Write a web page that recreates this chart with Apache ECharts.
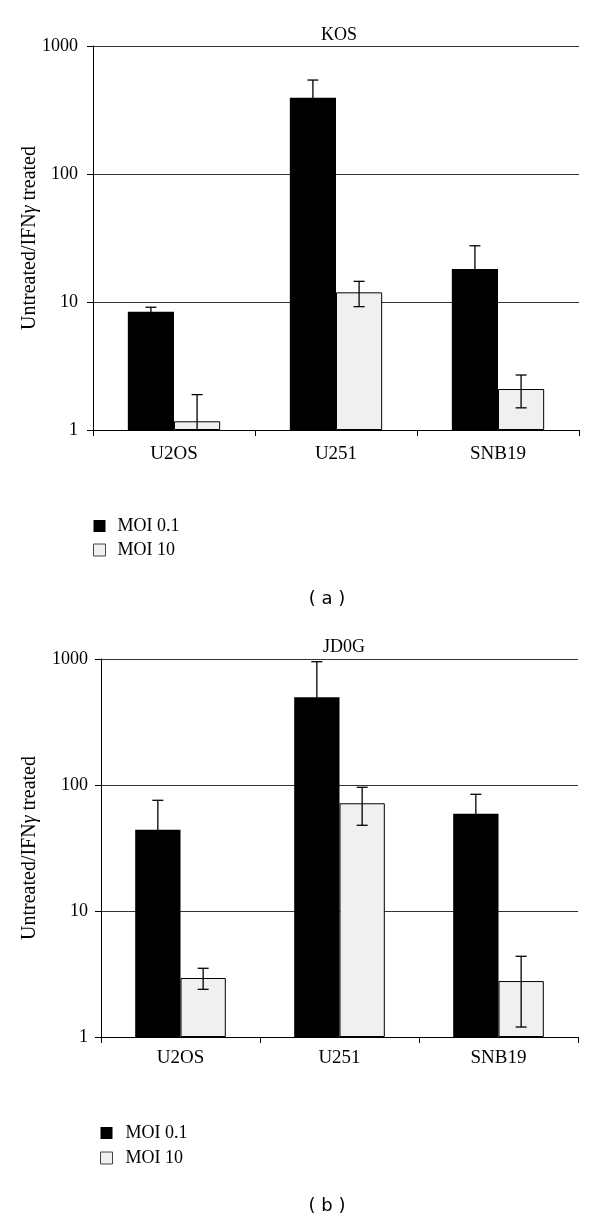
<!DOCTYPE html>
<html><head><meta charset="utf-8">
<script src="https://cdn.jsdelivr.net/npm/echarts@6/dist/echarts.min.js"></script>
<style>html,body{margin:0;padding:0;background:#fff}#c{width:600px;height:1218px}</style>
</head><body><div id="c"></div>
<script>
const categories = ['U2OS', 'U251', 'SNB19'];
const seriesNames = ['MOI 0.1', 'MOI 10'];
const yTicks = [1, 10, 100, 1000];
// Panel (a) KOS
const kosMoi01 = [8.4, 394, 18.1];
const kosMoi01Hi = [9.1, 542, 27.5];
const kosMoi01Lo = [7.7, 246, 8.7];
const kosMoi10 = [1.17, 11.9, 2.09];
const kosMoi10Hi = [1.89, 14.5, 2.69];
const kosMoi10Lo = [1, 9.2, 1.49];
// Panel (b) JD0G
const jdMoi01 = [44.2, 497, 59.2];
const jdMoi01Hi = [75.6, 952, 84.4];
const jdMoi01Lo = [12.8, 42, 34];
const jdMoi10 = [2.94, 71.6, 2.78];
const jdMoi10Hi = [3.51, 95.9, 4.37];
const jdMoi10Lo = [2.39, 47.9, 1.2];

const SERIF = "'Liberation Serif','Times New Roman',serif";
const SANS = "'DejaVu Sans',sans-serif";
const GAP = 0.43;

function errData(lo, hi, s) {
  return categories.map((c, i) => [i, lo[i], hi[i], s]);
}
function renderErr(params, api) {
  const idx = api.value(0), lo = api.value(1), hi = api.value(2), s = api.value(3);
  const p0 = api.coord([0, 10]), p1 = api.coord([1, 10]);
  const band = Math.abs(p1[0] - p0[0]);
  const bw = band * (1 - GAP) / 2;
  const c = api.coord([idx, hi]);
  const l = api.coord([idx, lo]);
  const x = c[0] + (s === 0 ? -bw / 2 : bw / 2);
  const cap = 5.5;
  const st = { stroke: '#000', lineWidth: 1.3 };
  return { type: 'group', children: [
    { type: 'line', shape: { x1: x, y1: c[1], x2: x, y2: l[1] }, style: st },
    { type: 'line', shape: { x1: x - cap, y1: c[1], x2: x + cap, y2: c[1] }, style: st },
    { type: 'line', shape: { x1: x - cap, y1: l[1], x2: x + cap, y2: l[1] }, style: st }
  ]};
}

const grids = [
  { left: 93, right: 21, top: 46, height: 384 },
  { left: 101, right: 22, top: 659, height: 378 }
];
const xMargins = [15, 12];
const yMargins = [15, 13];
const nameGaps = [53, 61];
const xAxes = grids.map((g, i) => ({
  type: 'category', gridIndex: i, data: categories,
  axisLine: { lineStyle: { color: '#000', width: 1 } },
  axisTick: { show: true, length: 6, lineStyle: { color: '#000' } },
  axisLabel: { fontFamily: SERIF, fontSize: 19, color: '#000', margin: xMargins[i] }
}));
const yAxes = grids.map((g, i) => ({
  type: 'log', logBase: 10, gridIndex: i, min: yTicks[0], max: yTicks[yTicks.length - 1],
  name: 'Untreated/IFN{g|γ} treated', nameLocation: 'middle', nameRotate: 90, nameGap: nameGaps[i],
  nameMoveOverlap: false,
  nameTextStyle: { fontFamily: SERIF, fontSize: 20, color: '#000',
    rich: { g: { fontFamily: SERIF, fontSize: 20, fontStyle: 'italic', color: '#000' } } },
  axisLine: { show: true, lineStyle: { color: '#000', width: 1 } },
  axisTick: { show: true, length: 6, lineStyle: { color: '#000' } },
  splitLine: { show: true, lineStyle: { color: '#333', width: 1 } },
  axisLabel: { fontFamily: SERIF, fontSize: 18, color: '#000', margin: yMargins[i],
    formatter: v => String(v) }
}));

function barSeries(name, data, gi, light) {
  return {
    name, type: 'bar', xAxisIndex: gi, yAxisIndex: gi, data,
    barGap: '0%', barCategoryGap: (GAP * 100) + '%',
    itemStyle: light ? { color: '#f0f0f0', borderColor: '#000', borderWidth: 1 }
                     : { color: '#000', borderColor: '#000', borderWidth: 0 },
    z: 2
  };
}
function errSeries(lo, hi, s, gi) {
  return { type: 'custom', xAxisIndex: gi, yAxisIndex: gi, renderItem: renderErr,
    data: errData(lo, hi, s), z: 5, silent: true, clip: false };
}
const legendData = [
  { name: seriesNames[0], itemStyle: { color: '#000', borderWidth: 0 } },
  { name: seriesNames[1], itemStyle: { color: '#f0f0f0', borderColor: '#444', borderWidth: 1 } }
];

const option = {
  animation: false,
  backgroundColor: '#fff',
  title: [
    { text: 'KOS', left: 334, top: 21, textAlign: 'center',
      textStyle: { fontFamily: SERIF, fontSize: 18, fontWeight: 'normal', color: '#000' } },
    { text: 'JD0G', left: 339, top: 633, textAlign: 'center',
      textStyle: { fontFamily: SERIF, fontSize: 18, fontWeight: 'normal', color: '#000' } },
    { text: '( a )', left: 322, top: 585, textAlign: 'center',
      textStyle: { fontFamily: SANS, fontSize: 18, fontWeight: 'normal', color: '#000' } },
    { text: '( b )', left: 322, top: 1192, textAlign: 'center',
      textStyle: { fontFamily: SANS, fontSize: 18, fontWeight: 'normal', color: '#000' } }
  ],
  legend: [
    { data: legendData, orient: 'vertical', left: 93, top: 517, padding: 0,
      itemWidth: 12, itemHeight: 12, itemGap: 6, icon: 'rect',
      textStyle: { fontFamily: SERIF, fontSize: 18, color: '#000', padding: [0, 0, 0, 7] } },
    { data: legendData, orient: 'vertical', left: 100, top: 1124, padding: 0,
      itemWidth: 12, itemHeight: 12, itemGap: 7, icon: 'rect',
      textStyle: { fontFamily: SERIF, fontSize: 18, color: '#000', padding: [0, 0, 0, 8] } }
  ],
  grid: grids,
  xAxis: xAxes,
  yAxis: yAxes,
  series: [
    barSeries(seriesNames[0], kosMoi01, 0, false),
    barSeries(seriesNames[1], kosMoi10, 0, true),
    errSeries(kosMoi01Lo, kosMoi01Hi, 0, 0),
    errSeries(kosMoi10Lo, kosMoi10Hi, 1, 0),
    barSeries(seriesNames[0], jdMoi01, 1, false),
    barSeries(seriesNames[1], jdMoi10, 1, true),
    errSeries(jdMoi01Lo, jdMoi01Hi, 0, 1),
    errSeries(jdMoi10Lo, jdMoi10Hi, 1, 1)
  ]
};
const chart = echarts.init(document.getElementById('c'), null, { renderer: 'canvas' });
chart.setOption(option);
</script></body></html>
